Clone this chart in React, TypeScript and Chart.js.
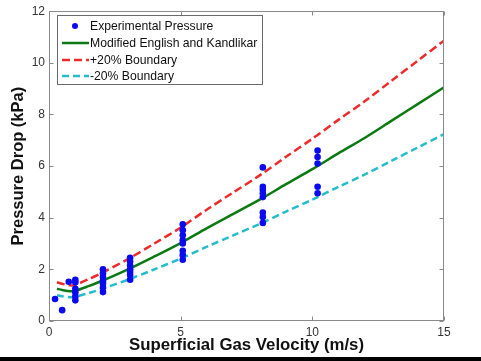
import React, { useEffect, useRef } from "react";
import { Chart, registerables } from "chart.js";

Chart.register(...registerables);

// Experimental data (superficial gas velocity m/s, pressure drop kPa)
const expX = [
  0.23, 0.5, 0.75,
  1.0, 1.0, 1.0, 1.0, 1.0, 1.0,
  2.05, 2.05, 2.05, 2.05, 2.05, 2.05, 2.05,
  3.08, 3.08, 3.08, 3.08, 3.08, 3.08, 3.08,
  5.08, 5.08, 5.08, 5.08, 5.08, 5.08, 5.08, 5.08,
  8.12, 8.12, 8.12, 8.12, 8.12, 8.12, 8.12, 8.12,
  10.2, 10.2, 10.2, 10.2, 10.2,
];
const expY = [
  0.85, 0.42, 1.52,
  1.6, 1.5, 1.25, 1.1, 0.95, 0.8,
  2.0, 1.85, 1.7, 1.55, 1.45, 1.3, 1.12,
  2.45, 2.3, 2.15, 2.0, 1.9, 1.78, 1.6,
  3.75, 3.52, 3.32, 3.13, 3.0, 2.72, 2.55, 2.37,
  5.95, 5.2, 5.08, 4.95, 4.8, 4.2, 4.03, 3.8,
  6.6, 6.35, 6.1, 5.2, 4.95,
];

// Model curves
const modelX = [0.3, 0.5, 0.8, 1, 1.5, 2, 3, 4, 5, 6, 7, 8, 9, 10, 11, 12, 13, 14, 15];
const modelY = [1.25, 1.2, 1.15, 1.17, 1.35, 1.55, 2.0, 2.5, 3.02, 3.6, 4.15, 4.7, 5.3, 5.88, 6.5, 7.1, 7.75, 8.4, 9.05];
const upperY = [1.5, 1.44, 1.38, 1.4, 1.62, 1.86, 2.4, 3.0, 3.62, 4.32, 4.98, 5.64, 6.36, 7.06, 7.8, 8.52, 9.3, 10.08, 10.86];
const lowerY = [1.0, 0.96, 0.92, 0.94, 1.08, 1.24, 1.6, 2.0, 2.42, 2.88, 3.32, 3.76, 4.24, 4.7, 5.2, 5.68, 6.2, 6.72, 7.24];

const xTicks = [0, 5, 10, 15];
const yTicks = [0, 2, 4, 6, 8, 10, 12];

const seriesLabels = [
  "Experimental Pressure",
  "Modified English and Kandlikar",
  "+20% Boundary",
  "-20% Boundary",
];
const xTitle = "Superficial Gas Velocity (m/s)";
const yTitle = "Pressure Drop (kPa)";

const FONT = "'Liberation Sans', Arial, sans-serif";
const BLUE = "#0a0af0";
const GREEN = "#0c7a12";
const RED = "#ee2b2b";
const CYAN = "#25bccb";
const FRAME = "#8a8a8a";

const pts = (xs: number[], ys: number[]) => xs.map((x, i) => ({ x, y: ys[i] }));

const framePlugin = {
  id: "framePlugin",
  beforeDraw(chart: any) {
    const ctx = chart.ctx;
    ctx.save();
    ctx.fillStyle = "#ffffff";
    ctx.fillRect(0, 0, chart.width, chart.height);
    ctx.fillStyle = "#000000";
    ctx.fillRect(0, 357, chart.width, chart.height - 357);
    ctx.restore();
  },
  afterDraw(chart: any) {
    const ctx = chart.ctx;
    const a = chart.chartArea;
    const xs = chart.scales.x;
    const ys = chart.scales.y;
    ctx.save();
    ctx.strokeStyle = FRAME;
    ctx.lineWidth = 1;
    ctx.setLineDash([]);
    const L = Math.round(a.left) + 0.5;
    const R = Math.round(a.right) - 0.5;
    const T = Math.round(a.top) + 0.5;
    const B = Math.round(a.bottom) - 0.5;
    ctx.strokeRect(L, T, R - L, B - T);
    const tl = 4;
    ctx.beginPath();
    xTicks.forEach((v) => {
      const px = Math.round(xs.getPixelForValue(v)) + 0.5;
      ctx.moveTo(px, B);
      ctx.lineTo(px, B - tl);
      ctx.moveTo(px, T);
      ctx.lineTo(px, T + tl);
    });
    yTicks.forEach((v) => {
      const py = Math.round(ys.getPixelForValue(v)) + 0.5;
      ctx.moveTo(L, py);
      ctx.lineTo(L + tl, py);
      ctx.moveTo(R, py);
      ctx.lineTo(R - tl, py);
    });
    ctx.stroke();

    // Legend box
    const bx = 57.5, by = 15.5, bw = 205, bh = 69;
    ctx.fillStyle = "#ffffff";
    ctx.fillRect(bx, by, bw, bh);
    ctx.strokeStyle = "#6a6a6a";
    ctx.strokeRect(bx, by, bw, bh);
    const rows = [26, 43, 60, 76];
    const ds = chart.data.datasets;
    ds.forEach((d: any, i: number) => {
      const y = rows[i];
      if (d.type === "scatter") {
        ctx.fillStyle = d.backgroundColor;
        ctx.beginPath();
        ctx.arc(75, y, 3, 0, Math.PI * 2);
        ctx.fill();
      } else {
        ctx.strokeStyle = d.borderColor;
        ctx.lineWidth = 2.5;
        ctx.setLineDash(d.borderDash || []);
        ctx.beginPath();
        ctx.moveTo(62, y);
        ctx.lineTo(89, y);
        ctx.stroke();
        ctx.setLineDash([]);
      }
      ctx.fillStyle = "#111";
      ctx.font = `12.2px ${FONT}`;
      ctx.textAlign = "left";
      ctx.textBaseline = "middle";
      ctx.fillText(d.label, 90, y + 0.5);
    });
    ctx.restore();
  },
};

export default function App() {
  const ref = useRef<HTMLCanvasElement | null>(null);

  useEffect(() => {
    document.body.style.margin = "0";
    const canvas = ref.current;
    if (!canvas) return;
    const chart = new Chart(canvas, {
      type: "scatter",
      data: {
        datasets: [
          {
            type: "scatter",
            label: seriesLabels[0],
            data: pts(expX, expY),
            backgroundColor: BLUE,
            borderColor: BLUE,
            pointRadius: 3.3,
            pointBorderWidth: 0,
          },
          {
            type: "line",
            label: seriesLabels[1],
            data: pts(modelX, modelY),
            borderColor: GREEN,
            backgroundColor: GREEN,
            borderWidth: 2.5,
            pointRadius: 0,
            tension: 0.3,
            fill: false,
          },
          {
            type: "line",
            label: seriesLabels[2],
            data: pts(modelX, upperY),
            borderColor: RED,
            backgroundColor: RED,
            borderWidth: 2.5,
            borderDash: [8, 4],
            pointRadius: 0,
            tension: 0.3,
            fill: false,
          },
          {
            type: "line",
            label: seriesLabels[3],
            data: pts(modelX, lowerY),
            borderColor: CYAN,
            backgroundColor: CYAN,
            borderWidth: 2.5,
            borderDash: [7, 4],
            pointRadius: 0,
            tension: 0.3,
            fill: false,
          },
        ] as any,
      },
      options: {
        animation: false,
        responsive: false,
        devicePixelRatio: 1,
        layout: { padding: { left: 0, right: 37, top: 10, bottom: 0 } },
        plugins: {
          legend: { display: false },
          tooltip: { enabled: false },
        },
        scales: {
          x: {
            type: "linear",
            min: 0,
            max: 15,
            afterBuildTicks: (s: any) => {
              s.ticks = xTicks.map((v) => ({ value: v }));
            },
            afterFit: (s: any) => {
              s.height = 40;
            },
            grid: { display: false, drawTicks: false },
            border: { display: false },
            ticks: {
              padding: 4,
              color: "#333",
              font: { family: FONT, size: 12 },
              maxRotation: 0,
            },
            title: {
              display: true,
              text: xTitle,
              color: "#111",
              font: { family: FONT, size: 16.8, weight: "bold" },
              padding: { top: 0, bottom: 6 },
            },
          },
          y: {
            type: "linear",
            min: 0,
            max: 12,
            afterBuildTicks: (s: any) => {
              s.ticks = yTicks.map((v) => ({ value: v }));
            },
            afterFit: (s: any) => {
              s.width = 49;
            },
            grid: { display: false, drawTicks: false },
            border: { display: false },
            ticks: {
              padding: 4,
              color: "#333",
              font: { family: FONT, size: 12 },
            },
            title: {
              display: true,
              text: yTitle,
              color: "#111",
              font: { family: FONT, size: 16.5, weight: "bold" },
              padding: { top: 9, bottom: 0 },
            },
          },
        },
      } as any,
      plugins: [framePlugin],
    });
    return () => chart.destroy();
  }, []);

  return (
    <div style={{ width: 481, height: 361 }}>
      <canvas ref={ref} width={481} height={361} style={{ width: 481, height: 361, display: "block" }} />
    </div>
  );
}
